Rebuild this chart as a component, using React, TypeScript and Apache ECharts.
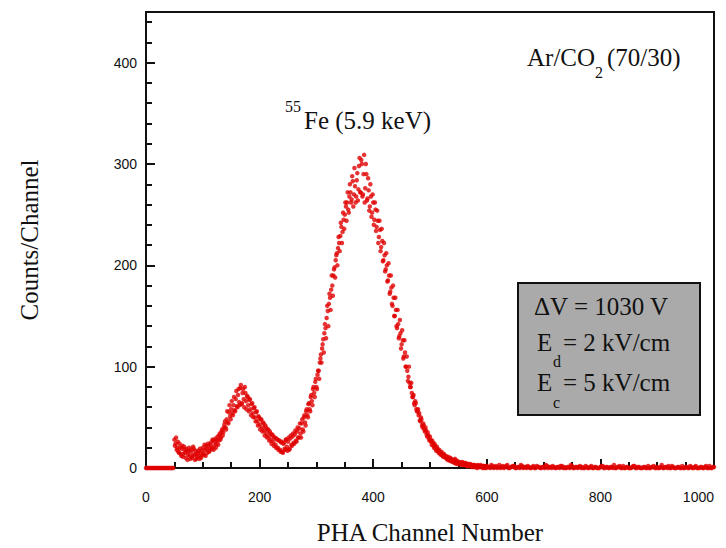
import React, { useEffect, useRef } from "react";
import * as echarts from "echarts";

// Channel 0-48, step 2
const lowStart = 0;
const lowStep = 2;
const lowCounts = [0, 0, 0, 0, 0, 0, 0, 0, 0, 0, 0, 0, 0, 0, 0, 0, 0, 0, 0, 0, 0, 0, 0, 0, 0];

// Even channels 50-598
const peakEvenStart = 50;
const peakStep = 2;
const peakEvenCounts = [
  28, 24, 18, 26, 15,
  20, 12, 22, 14, 18,
  10, 17, 13, 20, 9,
  16, 12, 19, 8, 14,
  11, 17, 9, 15, 12,
  20, 13, 18, 22, 15,
  21, 17, 25, 19, 27,
  22, 29, 24, 31, 27,
  34, 30, 38, 35, 43,
  40, 48, 45, 55, 51,
  58, 54, 62, 57, 68,
  61, 72, 65, 79, 63,
  74, 68, 80, 66, 71,
  62, 67, 58, 63, 54,
  59, 50, 55, 46, 51,
  43, 48, 40, 45, 37,
  42, 34, 38, 31, 36,
  28, 33, 26, 30, 23,
  29, 20, 27, 18, 25,
  16, 24, 19, 28, 21,
  26, 18, 29, 23, 31,
  25, 33, 27, 36, 30,
  39, 34, 44, 38, 50,
  45, 56, 52, 63, 58,
  70, 66, 78, 74, 85,
  80, 92, 96, 104, 112,
  118, 127, 133, 138, 148,
  155, 162, 168, 176, 180,
  190, 198, 205, 212, 217,
  222, 229, 238, 233, 245,
  250, 258, 262, 255, 268,
  272, 265, 283, 270, 278,
  268, 291, 275, 306, 272,
  300, 270, 309, 276, 290,
  266, 274, 258, 268, 252,
  262, 245, 255, 238, 244,
  228, 235, 218, 224, 205,
  210, 196, 200, 185, 190,
  174, 178, 160, 168, 150,
  156, 138, 142, 130, 133,
  122, 126, 110, 114, 100,
  96, 90, 84, 80, 74,
  70, 64, 66, 58, 56,
  52, 47, 50, 42, 44,
  38, 40, 33, 35, 29,
  31, 26, 27, 22, 24,
  19, 21, 17, 18, 14,
  16, 12, 14, 11, 12,
  9, 11, 8, 10, 7,
  8, 6, 9, 5, 7,
  5, 6, 4, 5, 3,
  5, 3, 4, 2, 4,
  3, 2, 3, 1, 3,
  2, 1, 3, 2, 1,
  2, 1, 2, 0, 2,
];

// Odd channels 51-599
const peakOddStart = 51;
const peakOddCounts = [
  22, 30, 20, 16, 24,
  14, 19, 11, 21, 15,
  19, 8, 16, 12, 18,
  10, 21, 13, 17, 9,
  15, 12, 19, 10, 17,
  14, 23, 12, 19, 24,
  16, 23, 20, 28, 18,
  26, 20, 28, 23, 32,
  28, 36, 32, 40, 46,
  38, 56, 44, 62, 48,
  66, 52, 70, 56, 76,
  60, 78, 62, 82, 64,
  78, 60, 74, 58, 70,
  56, 68, 52, 64, 50,
  60, 46, 56, 42, 50,
  38, 48, 36, 44, 32,
  40, 30, 38, 27, 34,
  24, 32, 22, 30, 20,
  28, 18, 27, 16, 26,
  15, 25, 18, 28, 17,
  30, 19, 32, 22, 34,
  24, 37, 26, 40, 30,
  44, 30, 48, 36, 52,
  42, 58, 50, 64, 56,
  72, 62, 80, 70, 88,
  78, 96, 88, 108, 104,
  122, 114, 142, 128, 160,
  140, 172, 156, 190, 170,
  196, 188, 210, 200, 228,
  214, 242, 222, 252, 236,
  262, 244, 272, 252, 280,
  262, 288, 258, 296, 262,
  284, 264, 298, 272, 304,
  268, 290, 262, 300, 264,
  286, 254, 280, 248, 270,
  240, 262, 234, 254, 222,
  244, 214, 236, 204, 222,
  194, 212, 184, 202, 172,
  190, 162, 180, 150, 168,
  140, 156, 128, 146, 118,
  136, 108, 126, 100, 110,
  86, 100, 80, 84, 70,
  72, 62, 64, 56, 58,
  54, 46, 48, 40, 42,
  36, 37, 31, 32, 27,
  28, 23, 25, 20, 22,
  17, 19, 15, 16, 13,
  14, 11, 13, 10, 11,
  8, 10, 7, 9, 6,
  7, 5, 8, 4, 6,
  4, 5, 3, 6, 4,
  3, 5, 2, 3, 2,
  4, 1, 2, 3, 1,
  2, 0, 2, 1, 3,
  1, 0, 2, 1, 0,
];

// Channel 600-1000, step 4
const tailStart = 600;
const tailStep = 4;
const tailCounts = [
  2, 1, 3, 0, 2, 1, 0, 2, 1, 3,
  0, 1, 2, 0, 1, 3, 0, 1, 2, 0,
  1, 0, 2, 1, 0, 1, 3, 0, 1, 2,
  0, 1, 0, 2, 1, 0, 1, 3, 0, 1,
  0, 2, 1, 0, 1, 0, 2, 0, 1, 0,
  1, 2, 0, 1, 0, 1, 3, 0, 1, 0,
  2, 0, 1, 0, 1, 2, 0, 1, 0, 1,
  0, 2, 0, 1, 0, 1, 0, 3, 0, 1,
  2, 0, 1, 0, 1, 0, 2, 0, 1, 0,
  1, 0, 2, 0, 1, 0, 1, 0, 2, 0, 1,
];

// Channel 602-998, step 4
const tail2Start = 602;
const tail2Counts = [
  1, 0, 2, 1, 0, 3, 1, 0, 2, 0,
  1, 2, 0, 1, 0, 2, 1, 0, 1, 0,
  2, 0, 1, 0, 1, 0, 2, 1, 0, 1,
  0, 1, 2, 0, 0, 1, 0, 2, 0, 1,
  1, 0, 0, 2, 0, 1, 0, 1, 0, 0,
  2, 0, 1, 0, 1, 0, 0, 1, 2, 0,
  0, 1, 0, 0, 2, 0, 1, 0, 0, 1,
  0, 0, 1, 2, 0, 0, 1, 0, 1, 0,
  0, 2, 0, 0, 1, 0, 0, 1, 0, 2,
  0, 1, 0, 0, 1, 0, 2, 0, 0, 1,
];

const xMajorTicks = [0, 200, 400, 600, 800, 1000];
const xMinorTicks = [0, 50, 100, 150, 200, 250, 300, 350, 400, 450, 500, 550, 600, 650, 700, 750, 800, 850, 900, 950, 1000];
const yMajorTicks = [0, 100, 200, 300, 400];
const yMinorTicks = [0, 20, 40, 60, 80, 100, 120, 140, 160, 180, 200, 220, 240, 260, 280, 300, 320, 340, 360, 380, 400, 420, 440];

const SERIF = '"Liberation Serif", "Times New Roman", serif';
const SANS = '"Liberation Sans", Arial, sans-serif';
const INK = "#111";

function toPoints(start: number, step: number, counts: number[]) {
  return counts.map((c, i) => [start + i * step, c]);
}

export default function App() {
  const ref = useRef<HTMLDivElement>(null);
  useEffect(() => {
    document.body.style.margin = "0";
    if (!ref.current) return;
    const chart = echarts.init(ref.current, undefined, { renderer: "svg" });
    const data = [
      ...toPoints(lowStart, lowStep, lowCounts),
      ...toPoints(peakEvenStart, peakStep, peakEvenCounts),
      ...toPoints(peakOddStart, peakStep, peakOddCounts),
      ...toPoints(tailStart, tailStep, tailCounts),
      ...toPoints(tail2Start, tailStep, tail2Counts),
    ];
    const txt = (text: string, x: number, y: number, size: number) => ({
      type: "text",
      x,
      y,
      z: 10,
      style: { text, font: `${size}px ${SERIF}`, fill: INK, align: "left", verticalAlign: "middle" },
    });
    const option: any = {
      animation: false,
      backgroundColor: "#fff",
      grid: {
        left: 146, right: 12, top: 12, bottom: 80,
        outerBoundsMode: "none", containLabel: false,
        show: true, borderColor: INK, borderWidth: 2, backgroundColor: "transparent",
      },
      xAxis: [
        {
          type: "value", min: 0, max: 1000, position: "bottom",
          axisLine: { show: true, onZero: false, lineStyle: { color: INK, width: 2 } },
          axisTick: { show: true, inside: true, length: 9, customValues: xMajorTicks, lineStyle: { color: INK, width: 2 } },
          axisLabel: {
            show: true, customValues: xMajorTicks, margin: 22, fontSize: 14, fontFamily: SANS, color: INK,
            alignMaxLabel: "right", formatter: (v: number) => String(v),
          },
          splitLine: { show: false },
          name: "PHA Channel Number", nameLocation: "middle", nameGap: 52,
          nameTextStyle: { fontFamily: SERIF, fontSize: 25, color: INK },
        },
        {
          type: "value", min: 0, max: 1000, position: "bottom",
          axisLine: { show: false, onZero: false },
          axisTick: { show: true, inside: true, length: 6, customValues: xMinorTicks, lineStyle: { color: INK, width: 2 } },
          axisLabel: { show: false },
          splitLine: { show: false },
        },
      ],
      yAxis: [
        {
          type: "value", min: 0, max: 450, position: "left",
          axisLine: { show: true, onZero: false, lineStyle: { color: INK, width: 2 } },
          axisTick: { show: true, inside: true, length: 9, customValues: yMajorTicks, lineStyle: { color: INK, width: 2 } },
          axisLabel: { show: true, customValues: yMajorTicks, margin: 9, fontSize: 14, fontFamily: SANS, color: INK, formatter: (v: number) => String(v) },
          splitLine: { show: false },
          name: "Counts/Channel", nameLocation: "middle", nameGap: 104,
          nameTextStyle: { fontFamily: SERIF, fontSize: 25, color: INK },
        },
        {
          type: "value", min: 0, max: 450, position: "left",
          axisLine: { show: false, onZero: false },
          axisTick: { show: true, inside: true, length: 6, customValues: yMinorTicks, lineStyle: { color: INK, width: 2 } },
          axisLabel: { show: false },
          splitLine: { show: false },
        },
      ],
      series: [
        {
          type: "scatter",
          xAxisIndex: 0,
          yAxisIndex: 0,
          data,
          symbol: "circle",
          symbolSize: 4.5,
          clip: false,
          itemStyle: { color: "#e00000" },
        },
      ],
      graphic: [
        txt("Ar/CO", 527, 57, 25),
        txt("2", 595, 72, 16),
        txt("(70/30)", 607, 57, 25),
        txt("55", 285, 106, 16),
        txt("Fe (5.9 keV)", 304, 120, 25),
        {
          type: "rect",
          z: 5,
          shape: { x: 518, y: 283, width: 182, height: 132 },
          style: { fill: "#aaaaaa", stroke: INK, lineWidth: 2 },
        },
        txt("\u0394V = 1030 V", 534, 306, 25),
        txt("E", 537, 342, 25),
        txt("d", 553, 361, 16),
        txt("= 2 kV/cm", 563, 342, 25),
        txt("E", 537, 382, 25),
        txt("c", 553, 402, 16),
        txt("= 5 kV/cm", 563, 382, 25),
      ],
    };
    chart.setOption(option);
    return () => chart.dispose();
  }, []);
  return <div ref={ref} style={{ width: 726, height: 548 }} />;
}
